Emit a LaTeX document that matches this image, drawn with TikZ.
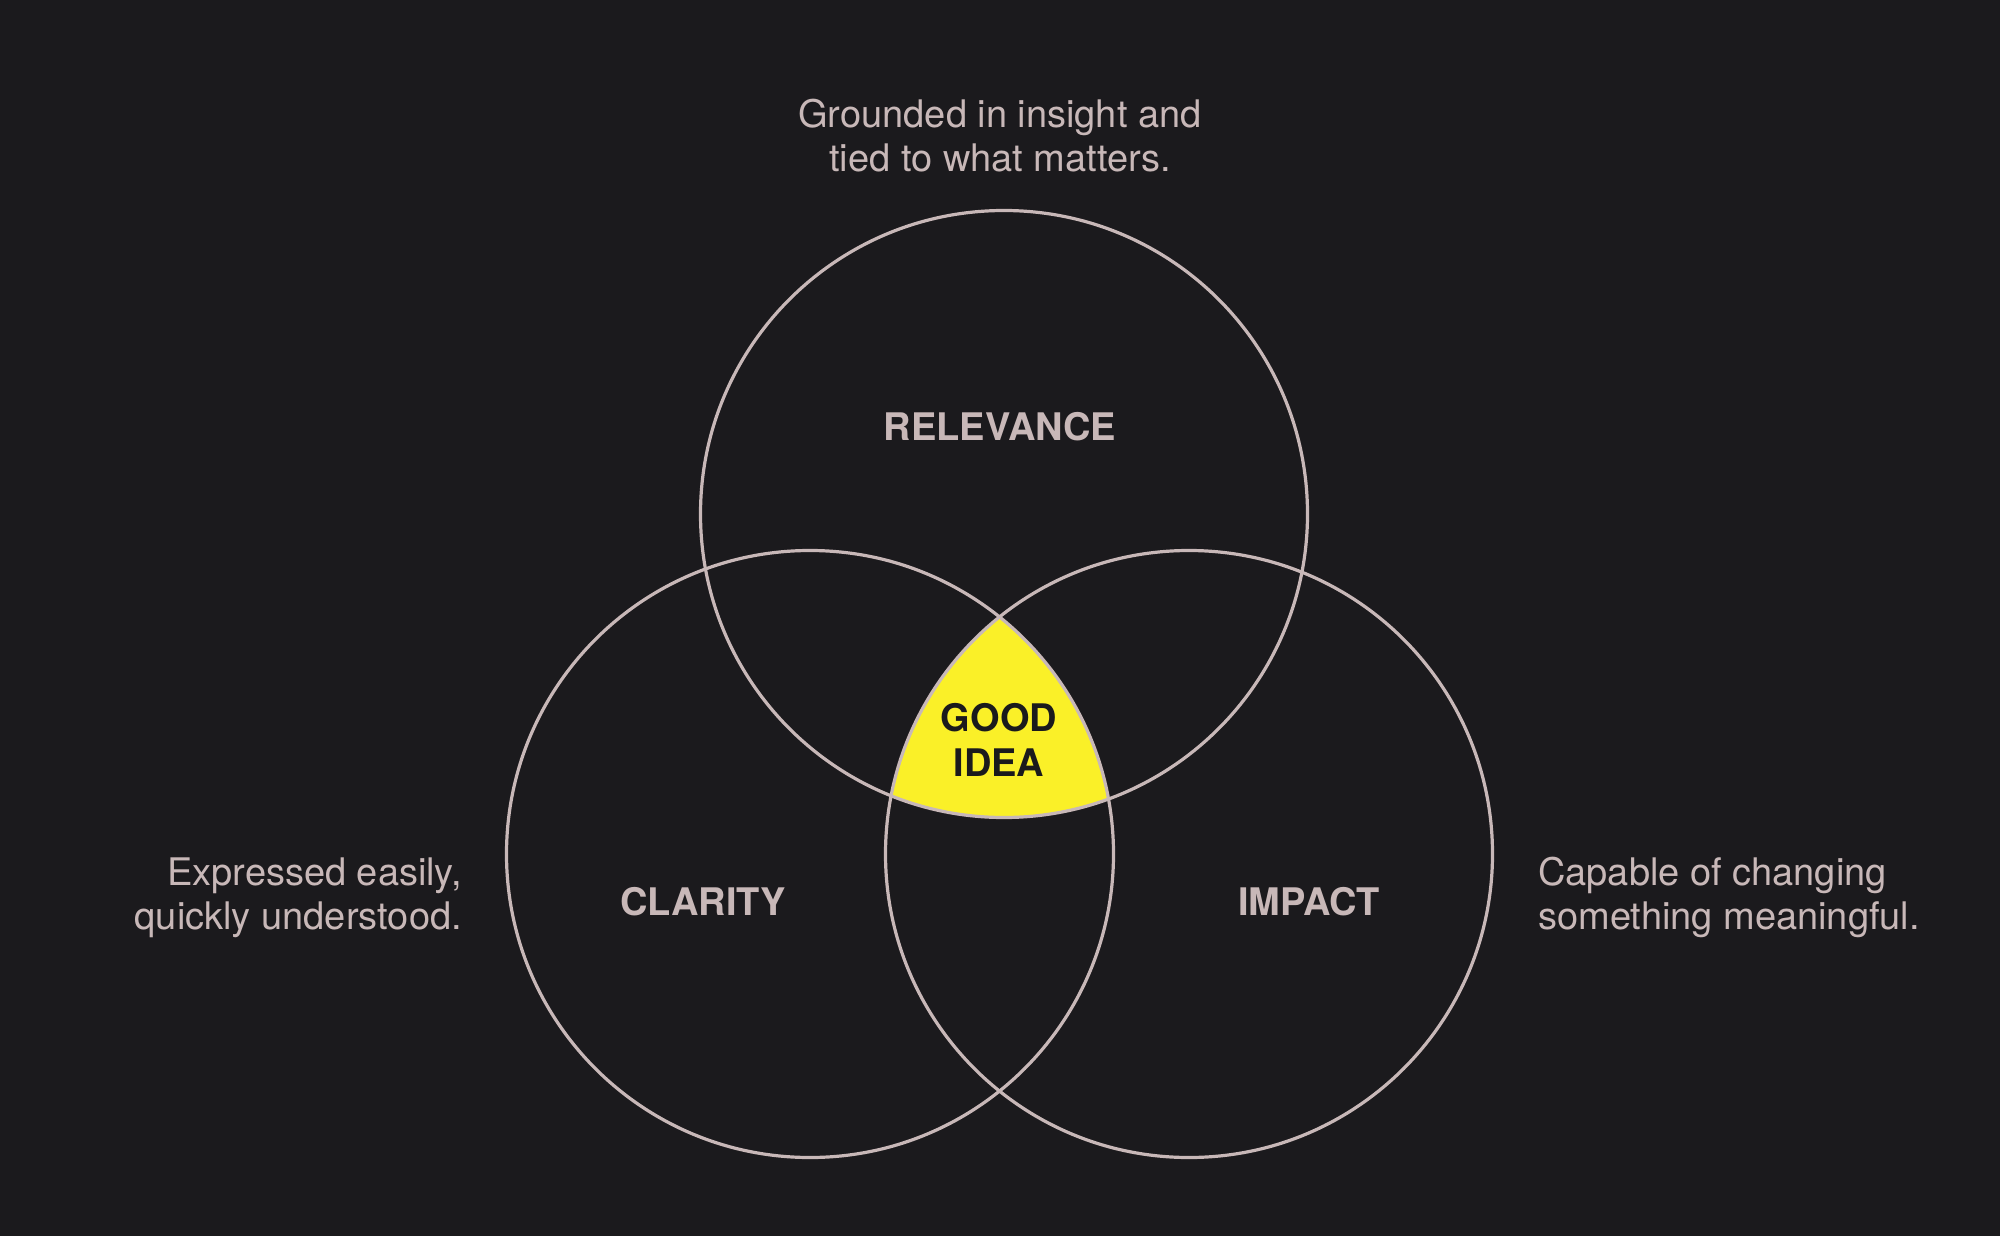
\documentclass[tikz,border=0pt]{standalone}
\usepackage{fontspec}
\setmainfont{TeX Gyre Heros}
\definecolor{bg}{RGB}{27,26,29}
\definecolor{ink}{RGB}{200,184,184}
\definecolor{goodyellow}{RGB}{250,240,40}
\definecolor{dark}{RGB}{26,26,28}
\tikzset{
  ring/.style={draw=ink, line width=3.2pt},
  cat/.style={text=ink, font=\bfseries\fontsize{38}{45}\selectfont, inner sep=0pt},
  desc/.style={text=ink, font=\fontsize{38}{44}\selectfont, inner sep=0pt},
}
\begin{document}
\begin{tikzpicture}[x=1pt,y=-1pt]
\fill[bg] (0,0) rectangle (2000,1236);
\useasboundingbox (0,0) rectangle (2000,1236);
\coordinate (cR) at (1004,514);
\coordinate (cC) at (810,854);
\coordinate (cI) at (1189,854);
\def\rad{303.5}
\begin{scope}
  \clip (cR) circle (\rad);
  \clip (cC) circle (\rad);
  \fill[goodyellow] (cI) circle (\rad);
\end{scope}
\draw[ring] (cR) circle (\rad);
\draw[ring] (cC) circle (\rad);
\draw[ring] (cI) circle (\rad);
\node[cat] (relevance) at (1000,427) {RELEVANCE};
\node[cat] (clarity) at (703,902) {CLARITY};
\node[cat] (impact) at (1309,902) {IMPACT};
\node[cat, text=dark, align=center] (good) at (999,740) {GOOD\\IDEA};
\node[desc, align=center] (topdesc) at (1000,136) {Grounded in insight and\\tied to what matters.};
\node[desc, align=right, anchor=east] (leftdesc) at (462,898) {Expressed easily,\\quickly understood.};
\node[desc, align=left, anchor=west] (rightdesc) at (1538,897) {Capable of changing\\something meaningful.};
\end{tikzpicture}
\end{document}
